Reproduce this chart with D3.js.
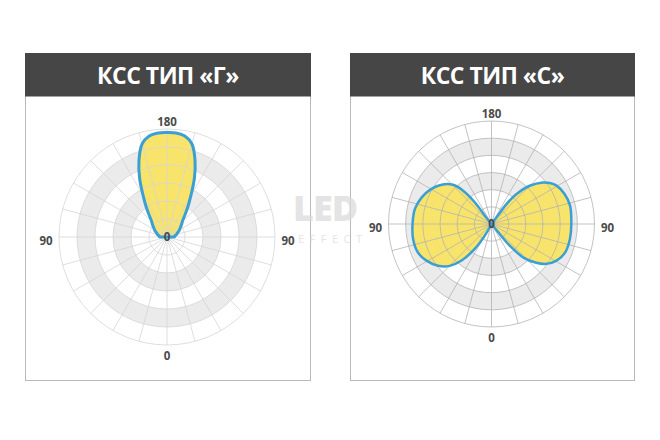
<!DOCTYPE html>
<html>
<head>
<meta charset="utf-8">
<script src="https://cdn.jsdelivr.net/npm/d3@7"></script>
<style>
  html, body { margin: 0; padding: 0; background: #ffffff; }
  svg { display: block; }
</style>
</head>
<body>
<svg id="chart" width="660" height="440"></svg>
<script>
// ---------- data ----------
const titles = ["КСС ТИП «Г»", "КСС ТИП «С»"];
const topLabel = "180";
const sideLabel = "90";
const bottomLabel = "0";
const centerLabel = "0";
const ringValues = [20, 40, 60, 80, 100, 120];
const shadedBands = [[40, 60], [80, 100]];
const spokeStep = 15;

// Type "Г": symmetric lobe; angle measured from 0 (bottom) to 180 (top)
const typeGAngles = [90, 95, 100, 105, 110, 115, 120, 125, 130, 135, 140, 145, 150, 155, 160, 165, 170, 175, 180];
const typeGValues = [8, 9, 9, 11, 12, 14, 16, 18, 21, 24, 30, 40, 53, 72, 91, 107, 114, 116, 116];

// Type "С": two lobes, right side and left side
const typeCRightAngles = [39, 40, 43.6, 49.1, 54, 60.6, 68.9, 79.2, 90, 103.2, 112.3, 120.5, 125.1, 128.9, 135, 140.2, 143.1, 143];
const typeCRightValues = [15, 33, 54, 69, 79, 87, 92, 93, 93, 94, 92, 88, 83, 77, 63, 45, 29, 13];
const typeCLeftAngles = [30, 34, 39.3, 45, 52, 60.6, 68.9, 79.2, 90, 101, 110.9, 120.3, 128.2, 135.5, 139.6, 142.4, 141];
const typeCLeftValues = [16, 35, 55, 69, 79, 87, 92, 93, 92, 91, 87, 81, 74, 64, 51, 32, 12];

// ---------- drawing ----------
const svg = d3.select("#chart");
const rad = Math.PI / 180;
const rightSide = g => Math.PI - g * rad;     // d3 angle, clockwise from 12 o'clock
const leftSide = g => Math.PI + g * rad;

const panels = [
  { x: 25.5, y: 53.5, w: 285, h: 327, cx: 167, cy: 237, R: 108, title: titles[0],
    grid: "#d6d6d6", strokeW: 3,
    lobes: [
      typeGAngles.map((g, i) => [leftSide(g), typeGValues[i]])
        .concat(typeGAngles.slice().reverse().map((g, i) => [2 * Math.PI + rightSide(g), typeGValues[typeGValues.length - 1 - i]]))
    ] },
  { x: 350.5, y: 53.5, w: 284, h: 327, cx: 491.5, cy: 224, R: 103, title: titles[1],
    grid: "#b4b4b4", strokeW: 2.5,
    lobes: [
      [[rightSide(39), 0]].concat(typeCRightAngles.map((g, i) => [rightSide(g), typeCRightValues[i]])),
      [[leftSide(30), 0]].concat(typeCLeftAngles.map((g, i) => [leftSide(g), typeCLeftValues[i]]))
    ] }
];

panels.forEach(p => {
  const g = svg.append("g");
  g.append("rect").attr("x", p.x).attr("y", p.y).attr("width", p.w).attr("height", p.h)
    .attr("fill", "#ffffff").attr("stroke", "#b9b9b9").attr("stroke-width", 1);
  g.append("rect").attr("x", p.x - 0.5).attr("y", p.y - 0.5).attr("width", p.w + 1).attr("height", 43.5)
    .attr("fill", "#464646");
  g.append("text").attr("x", p.x + p.w / 2).attr("y", p.y + 30)
    .attr("text-anchor", "middle").attr("fill", "#ffffff")
    .attr("font-family", "'Open Sans', sans-serif").attr("font-weight", 700)
    .attr("font-size", 23).attr("letter-spacing", -0.5)
    .text(p.title);

  const r = d3.scaleLinear().domain([0, 120]).range([0, p.R]);
  const plot = g.append("g").attr("transform", `translate(${p.cx},${p.cy})`);

  // shaded bands
  const arc = d3.arc();
  plot.selectAll("path.band").data(shadedBands).join("path").attr("class", "band")
    .attr("d", d => arc({ innerRadius: r(d[0]), outerRadius: r(d[1]), startAngle: 0, endAngle: 2 * Math.PI }))
    .attr("fill", "#ebebeb");

  // lobes fill
  const line = d3.lineRadial().angle(d => d[0]).radius(d => r(d[1])).curve(d3.curveCatmullRom.alpha(0.5));
  p.lobes.forEach(l => {
    plot.append("path").attr("d", line(l) + "Z").attr("fill", "#f8e46a").attr("stroke", "none");
  });

  // grid
  plot.selectAll("circle.ring").data(ringValues).join("circle").attr("class", "ring")
    .attr("r", d => r(d)).attr("fill", "none").attr("stroke", p.grid).attr("stroke-width", 0.8);
  const spokes = d3.range(0, 360, spokeStep);
  plot.selectAll("line.spoke").data(spokes).join("line").attr("class", "spoke")
    .attr("x1", 0).attr("y1", 0)
    .attr("x2", d => r(120) * Math.sin(d * rad)).attr("y2", d => -r(120) * Math.cos(d * rad))
    .attr("stroke", p.grid).attr("stroke-width", 0.8);

  // lobes outline
  p.lobes.forEach(l => {
    plot.append("path").attr("d", line(l) + "Z").attr("fill", "none")
      .attr("stroke", "#3a9fd2").attr("stroke-width", p.strokeW).attr("stroke-linejoin", "round");
  });

  // labels
  const lab = plot.append("g").attr("font-family", "'Open Sans', sans-serif").attr("font-weight", 700)
    .attr("font-size", 11.5).attr("fill", "#4a4a4a").attr("text-anchor", "middle")
    .attr("dominant-baseline", "central");
  lab.append("text").attr("x", 0).attr("y", -p.R - 8).text(topLabel);
  lab.append("text").attr("x", 0).attr("y", p.R + 10).text(bottomLabel);
  lab.append("text").attr("x", -p.R - 13).attr("y", 3).text(sideLabel);
  lab.append("text").attr("x", p.R + 13).attr("y", 3).text(sideLabel);
  lab.append("text").attr("x", 0).attr("y", -1).text(centerLabel);
});

// watermark on top, faint
const wmg = svg.append("g").attr("fill", "#dcdcdc").attr("opacity", 0.75)
  .attr("font-family", "'Open Sans', sans-serif");
wmg.append("text").attr("x", 293).attr("y", 221).attr("font-weight", 800).attr("font-size", 36)
  .attr("letter-spacing", -1).text("LED");
wmg.append("text").attr("x", 298).attr("y", 243).attr("font-weight", 400).attr("font-size", 11)
  .attr("letter-spacing", 5.5).text("EFFECT");
</script>
</body>
</html>
